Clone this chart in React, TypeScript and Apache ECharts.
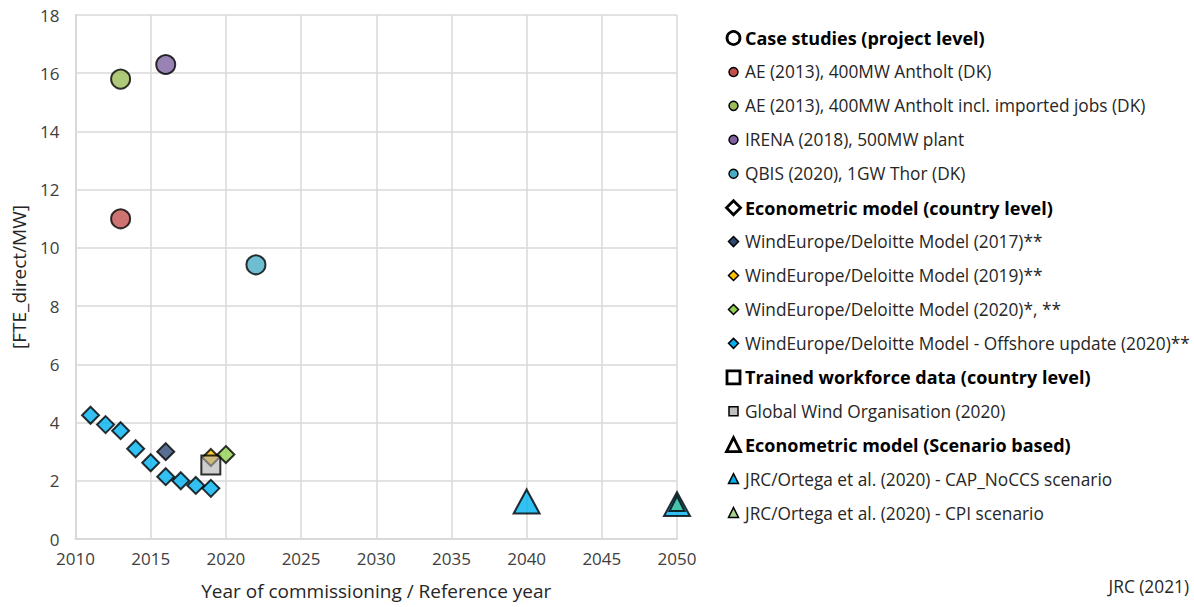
import React, { useEffect, useRef } from "react";
import * as echarts from "echarts";

const FONT = "'Open Sans', sans-serif";

// ---- data ----
const aeAntholt = [[2013, 11.0]];
const aeAntholtImported = [[2013, 15.8]];
const irena = [[2016, 16.3]];
const qbis = [[2022, 9.42]];
const we2017 = [[2016, 3.0]];
const we2019 = [[2019, 2.8]];
const we2020 = [[2020, 2.9]];
const offshoreYears = [2011, 2012, 2013, 2014, 2015, 2016, 2017, 2018, 2019];
const offshoreValues = [4.25, 3.93, 3.72, 3.1, 2.62, 2.14, 2.0, 1.84, 1.74];
const gwo = [[2019, 2.54]];
const capNoCCS = [[2040, 1.29], [2050, 1.2]];
const cpi = [[2050, 1.22]];

const xTicks = [2010, 2015, 2020, 2025, 2030, 2035, 2040, 2045, 2050];

// legend rows: label, shape, colour, header?
const legendRows = [
  { label: "Case studies (project level)", shape: "circle", color: "#ffffff", header: true },
  { label: "AE (2013), 400MW Antholt (DK)", shape: "circle", color: "#C0504D", header: false },
  { label: "AE (2013), 400MW Antholt incl. imported jobs (DK)", shape: "circle", color: "#9BBB59", header: false },
  { label: "IRENA (2018), 500MW plant", shape: "circle", color: "#8064A2", header: false },
  { label: "QBIS (2020), 1GW Thor (DK)", shape: "circle", color: "#4BACC6", header: false },
  { label: "Econometric model (country level)", shape: "diamond", color: "#ffffff", header: true },
  { label: "WindEurope/Deloitte Model (2017)**", shape: "diamond", color: "#2E4A74", header: false },
  { label: "WindEurope/Deloitte Model (2019)**", shape: "diamond", color: "#FFC000", header: false },
  { label: "WindEurope/Deloitte Model (2020)*, **", shape: "diamond", color: "#92D050", header: false },
  { label: "WindEurope/Deloitte Model - Offshore update (2020)**", shape: "diamond", color: "#00B0F0", header: false },
  { label: "Trained workforce data (country level)", shape: "rect", color: "#ffffff", header: true },
  { label: "Global Wind Organisation (2020)", shape: "rect", color: "#BFBFBF", header: false },
  { label: "Econometric model (Scenario based)", shape: "triangle", color: "#ffffff", header: true },
  { label: "JRC/Ortega et al. (2020) - CAP_NoCCS scenario", shape: "triangle", color: "#00B0F0", header: false },
  { label: "JRC/Ortega et al. (2020) - CPI scenario", shape: "triangle", color: "#A9D18E", header: false },
];

function legendShape(shape: string, cx: number, cy: number, header: boolean, color: string) {
  const r = header ? 6.5 : 4.5;
  const style = { fill: color, stroke: "#000", lineWidth: header ? 2.8 : 1.5 };
  if (shape === "circle") return { type: "circle", shape: { cx, cy, r }, style };
  if (shape === "rect")
    return { type: "rect", shape: { x: cx - r, y: cy - r, width: 2 * r, height: 2 * r }, style };
  if (shape === "diamond")
    return {
      type: "polygon",
      shape: { points: [[cx, cy - r - 0.5], [cx + r + 0.5, cy], [cx, cy + r + 0.5], [cx - r - 0.5, cy]] },
      style,
    };
  return {
    type: "polygon",
    shape: { points: [[cx, cy - r - 1], [cx + r + 0.5, cy + r], [cx - r - 0.5, cy + r]] },
    style,
  };
}

export default function App() {
  const ref = useRef<HTMLDivElement>(null);
  useEffect(() => {
    if (!ref.current) return;
    const chart = echarts.init(ref.current, null, { renderer: "svg" });

    const scatter = (name: string, data: number[][], symbol: string, size: any, color: string, z: number, extra: any = {}) => ({
      name,
      type: "scatter",
      data,
      symbol,
      symbolSize: size,
      z,
      itemStyle: { color, borderColor: "#000", borderWidth: 2, ...extra },
      emphasis: { disabled: true },
    });

    const graphics: any[] = [];
    legendRows.forEach((row, i) => {
      const cy = 38 + i * 33.93;
      graphics.push(legendShape(row.shape, 733.5, cy, row.header, row.color));
      graphics.push({
        type: "text",
        x: 745,
        y: cy,
        style: {
          text: row.label,
          font: row.header ? `bold 18px ${FONT}` : `17.3px ${FONT}`,
          fill: row.header ? "#000" : "#262626",
          verticalAlign: "middle",
          align: "left",
        },
      });
    });
    graphics.push({
      type: "text",
      x: 1189,
      y: 586,
      style: {
        text: "JRC (2021)",
        font: `17.3px ${FONT}`,
        fill: "#262626",
        align: "right",
        verticalAlign: "middle",
      },
    });

    chart.setOption({
      animation: false,
      backgroundColor: "#ffffff",
      grid: { left: 75.5, right: 517, top: 15, bottom: 68, containLabel: false },
      xAxis: {
        type: "value",
        min: 2010,
        max: 2050,
        interval: 5,
        name: "Year of commissioning / Reference year",
        nameLocation: "middle",
        nameGap: 42,
        nameTextStyle: { fontFamily: FONT, fontSize: 19, color: "#262626" },
        axisLine: { show: true, lineStyle: { color: "#d9d9d9", width: 2 } },
        axisTick: { show: false },
        axisLabel: {
          fontFamily: FONT,
          fontSize: 17,
          color: "#404040",
          margin: 11,
          formatter: (v: number) => (xTicks.includes(v) ? String(v) : ""),
        },
        splitLine: { show: true, lineStyle: { color: "#d9d9d9", width: 1.5 } },
      },
      yAxis: {
        type: "value",
        min: 0,
        max: 18,
        interval: 2,
        name: "[FTE_direct/MW]",
        nameLocation: "middle",
        nameGap: 47,
        nameTextStyle: { fontFamily: FONT, fontSize: 19, color: "#262626" },
        axisLine: { show: true, lineStyle: { color: "#d9d9d9", width: 2 } },
        axisTick: { show: false },
        axisLabel: { fontFamily: FONT, fontSize: 17, color: "#404040", margin: 16 },
        splitLine: { show: true, lineStyle: { color: "#d9d9d9", width: 1.5 } },
      },
      series: [
        scatter(
          "WindEurope/Deloitte Model - Offshore update (2020)**",
          offshoreYears.map((y, i) => [y, offshoreValues[i]]),
          "diamond",
          [17, 17],
          "#00B0F0",
          2
        ),
        scatter("WindEurope/Deloitte Model (2017)**", we2017, "diamond", [17, 17], "#2E4A74", 3),
        scatter("WindEurope/Deloitte Model (2019)**", we2019, "diamond", [17, 17], "#FFC000", 3),
        scatter("Global Wind Organisation (2020)", gwo, "rect", 19, "rgba(175,175,175,0.75)", 4),
        scatter("WindEurope/Deloitte Model (2020)*, **", we2020, "diamond", [17, 17], "#92D050", 5),
        scatter("AE (2013), 400MW Antholt (DK)", aeAntholt, "circle", 19, "#C0504D", 5),
        scatter("AE (2013), 400MW Antholt incl. imported jobs (DK)", aeAntholtImported, "circle", 19, "#9BBB59", 5),
        scatter("IRENA (2018), 500MW plant", irena, "circle", 19, "#8064A2", 5),
        scatter("QBIS (2020), 1GW Thor (DK)", qbis, "circle", 19, "#4BACC6", 5),
        scatter("JRC/Ortega et al. (2020) - CAP_NoCCS scenario", capNoCCS, "triangle", [26, 24], "#00B0F0", 6),
        scatter("JRC/Ortega et al. (2020) - CPI scenario", cpi, "triangle", [15, 15], "#4DC39B", 7),
      ],
      graphic: graphics,
    });
    return () => chart.dispose();
  }, []);
  return (
    <div
      ref={ref}
      style={{ position: "absolute", left: 0, top: 0, width: 1194, height: 607, overflow: "hidden" }}
    />
  );
}
